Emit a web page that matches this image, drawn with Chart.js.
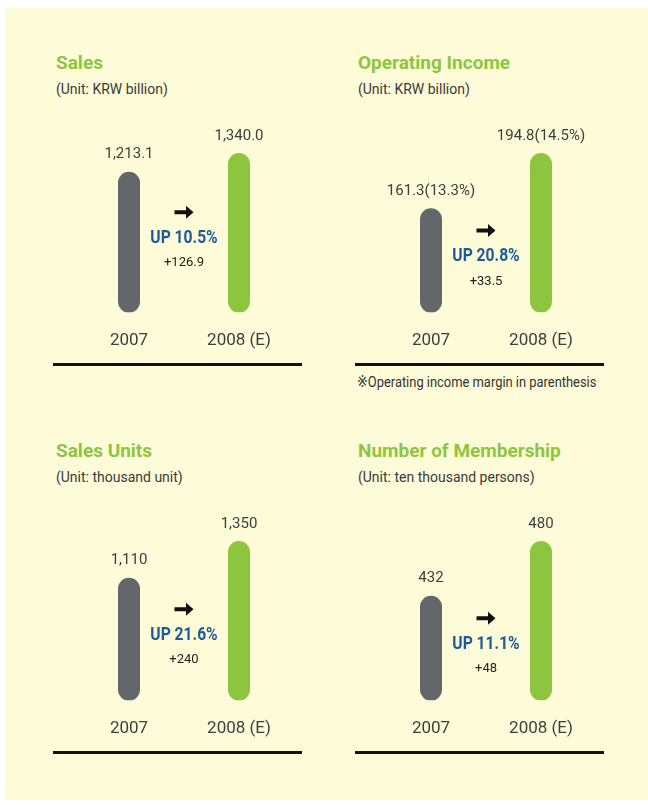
<!DOCTYPE html>
<html>
<head>
<meta charset="utf-8">
<script src="https://cdn.jsdelivr.net/npm/chart.js@4.4.1/dist/chart.umd.min.js"></script>
<style>
  html, body { margin: 0; padding: 0; background: #fff; }
  body { width: 648px; height: 805px; position: relative; overflow: hidden; font-family: Roboto, "DejaVu Sans", sans-serif; }
  #panel { position: absolute; left: 5px; top: 8px; width: 643px; height: 792px; background: #fefbd9; }
  .title { position: absolute; font-size: 19px; line-height: 19px; font-weight: bold; color: #8cc63f; white-space: nowrap; }
  .unit { position: absolute; font-size: 14px; line-height: 14px; color: #3a3a3a; white-space: nowrap; }
  .rule { position: absolute; height: 3px; width: 249px; background: #111; }
  .note { position: absolute; font-size: 15px; line-height: 15px; color: #333; white-space: nowrap; transform: scaleX(0.86); transform-origin: 0 0; }
  canvas { position: absolute; }
</style>
</head>
<body>
<div id="panel"></div>
<div class="note" style="left:357px; top:375px;">※Operating income margin in parenthesis</div>

<script>
  // Datos del gráfico
  const years = ["2007", "2008 (E)"];
  const titles = ["Sales", "Operating Income", "Sales Units", "Number of Membership"];
  const units = ["(Unit: KRW billion)", "(Unit: KRW billion)", "(Unit: thousand unit)", "(Unit: ten thousand persons)"];
  const salesValues = [1213.1, 1340.0];
  const incomeValues = [161.3, 194.8];
  const incomeMargins = ["13.3%", "14.5%"];
  const unitValues = [1110, 1350];
  const memberValues = [432, 480];
  const growthLabels = ["UP 10.5%", "UP 20.8%", "UP 21.6%", "UP 11.1%"];
  const changeLabels = ["+126.9", "+33.5", "+240", "+48"];
  const axisMins = [258, 98, 305, 340];

  const fmt1 = (v) => v.toLocaleString("en-US", { minimumFractionDigits: 1, maximumFractionDigits: 1 });
  const fmt0 = (v) => v.toLocaleString("en-US");

  const panels = [
    { values: salesValues, labels: salesValues.map(fmt1), dx: 0, dy: 0 },
    { values: incomeValues, labels: incomeValues.map((v, i) => `${v.toFixed(1)}(${incomeMargins[i]})`), dx: 302, dy: 0 },
    { values: unitValues, labels: unitValues.map(fmt0), dx: 0, dy: 388 },
    { values: memberValues, labels: memberValues.map(fmt0), dx: 302, dy: 388 },
  ];

  // Flecha negra entre las barras
  function drawArrow(ctx, x, y) {
    ctx.beginPath();
    ctx.moveTo(x - 9.5, y - 2);
    ctx.lineTo(x + 2, y - 2);
    ctx.lineTo(x + 2, y - 6.5);
    ctx.lineTo(x + 9.5, y);
    ctx.lineTo(x + 2, y + 6.5);
    ctx.lineTo(x + 2, y + 2);
    ctx.lineTo(x - 9.5, y + 2);
    ctx.closePath();
    ctx.fillStyle = "#111";
    ctx.fill();
  }

  const barLabels = {
    id: "barLabels",
    afterDatasetsDraw(chart, args, opts) {
      const ctx = chart.ctx;
      const bars = chart.getDatasetMeta(0).data;
      ctx.save();
      ctx.textAlign = "center";
      ctx.textBaseline = "middle";
      ctx.fillStyle = "#3e3e3e";
      ctx.font = "15px Roboto";
      bars.forEach((bar, i) => ctx.fillText(opts.labels[i], bar.x, bar.y - 17));

      const midX = (bars[0].x + bars[1].x) / 2;
      const midY = (bars[0].y + chart.chartArea.bottom) / 2 - 4;
      drawArrow(ctx, midX, midY - 26);

      // texto "UP" condensado
      ctx.save();
      ctx.translate(midX, midY);
      ctx.scale(0.87, 1);
      ctx.fillStyle = "#1b5b96";
      ctx.font = "bold 18px Roboto";
      ctx.fillText(opts.growth, 0, 0);
      ctx.restore();

      ctx.fillStyle = "#222";
      ctx.font = "13px Roboto";
      ctx.fillText(opts.change, midX, midY + 25);
      ctx.restore();
    },
  };

  panels.forEach((p, i) => {
    const title = document.createElement("div");
    title.className = "title";
    title.textContent = titles[i];
    title.style.left = 56 + p.dx + "px";
    title.style.top = 53 + p.dy + "px";
    document.body.appendChild(title);

    const unit = document.createElement("div");
    unit.className = "unit";
    unit.textContent = units[i];
    unit.style.left = 56 + p.dx + "px";
    unit.style.top = 82 + p.dy + "px";
    document.body.appendChild(unit);

    const rule = document.createElement("div");
    rule.className = "rule";
    rule.style.left = 53 + p.dx + "px";
    rule.style.top = 363 + p.dy + "px";
    document.body.appendChild(rule);

    const canvas = document.createElement("canvas");
    canvas.width = 250;
    canvas.height = 270;
    canvas.style.left = 53 + p.dx + "px";
    canvas.style.top = 100 + p.dy + "px";
    document.body.appendChild(canvas);

    new Chart(canvas.getContext("2d"), {
      type: "bar",
      data: {
        labels: years,
        datasets: [
          {
            data: p.values,
            base: axisMins[i],
            backgroundColor: ["#63666a", "#8cc63f"],
            borderRadius: 11,
            borderSkipped: false,
            barPercentage: 0.2,
            categoryPercentage: 1,
          },
        ],
      },
      options: {
        responsive: false,
        animation: false,
        layout: { padding: { left: 21, right: 9, top: 53, bottom: 1 } },
        plugins: {
          legend: { display: false },
          tooltip: { enabled: false },
          barLabels: { labels: p.labels, growth: growthLabels[i], change: changeLabels[i] },
        },
        scales: {
          x: {
            grid: { display: false, drawTicks: false },
            border: { display: false },
            ticks: { padding: 18, color: "#3e3e3e", font: { family: "Roboto", size: 17 } },
          },
          y: { display: false, min: axisMins[i], max: p.values[1] },
        },
      },
      plugins: [barLabels],
    });
  });
</script>
</body>
</html>
